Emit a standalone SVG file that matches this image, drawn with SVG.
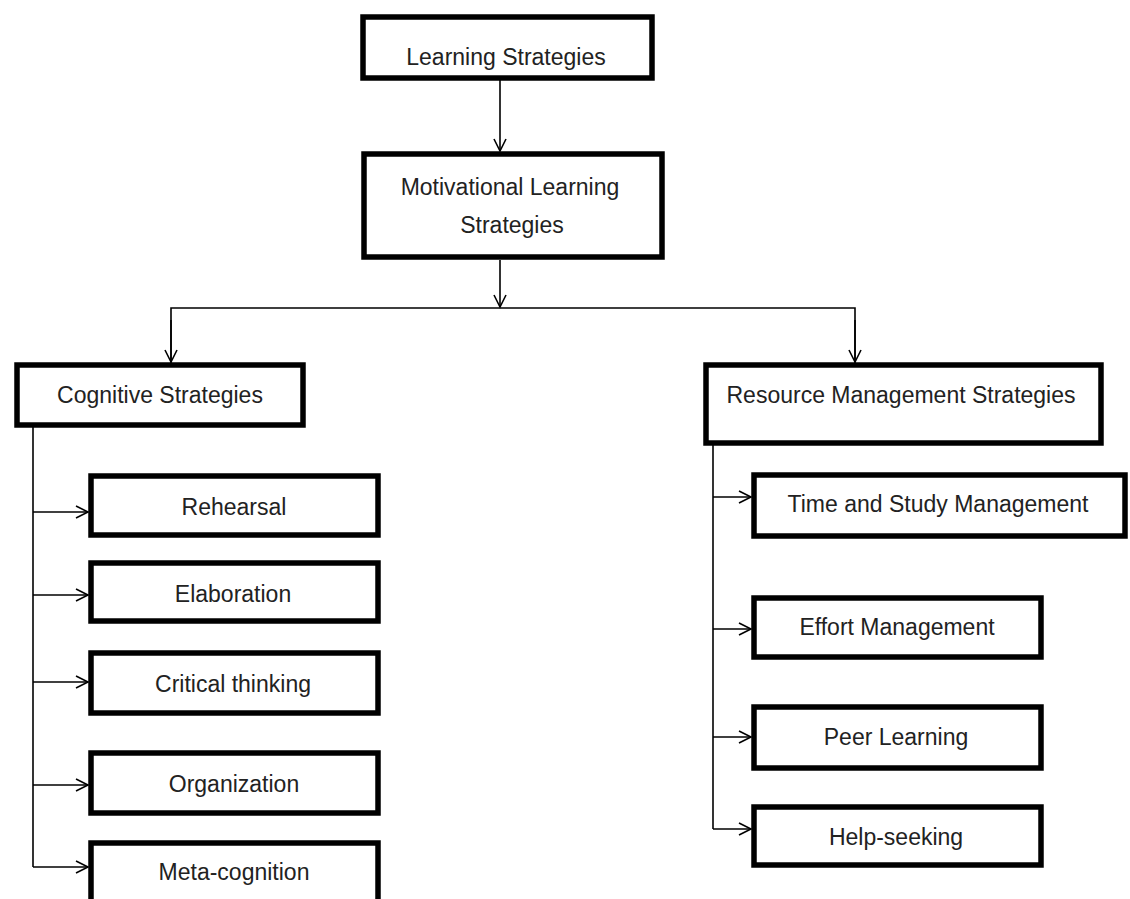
<svg xmlns="http://www.w3.org/2000/svg" width="1130" height="899" viewBox="0 0 1130 899">
  <style>
    .box { fill: #ffffff; stroke: #000000; stroke-width: 5.5; }
    .lbl { font-family: "Liberation Sans", Arial, sans-serif; font-size: 23px; fill: #222222; text-anchor: middle; }
    .conn { fill: none; stroke: #000000; stroke-width: 1.6; }
  </style>
  <defs>
    <marker id="arr" markerUnits="userSpaceOnUse" markerWidth="16" markerHeight="16" viewBox="0 0 16 16" refX="13" refY="7" orient="auto">
      <path d="M1,1 L13,7 L1,13" fill="none" stroke="#000000" stroke-width="1.6"/>
    </marker>
  </defs>
  <rect width="1130" height="899" fill="#ffffff"/>

  <g id="connectors">
    <line class="conn" x1="500" y1="80" x2="500" y2="151" marker-end="url(#arr)"/>
    <line class="conn" x1="500" y1="260" x2="500" y2="307" marker-end="url(#arr)"/>
    <polyline class="conn" points="171,363 171,308 855,308 855,363"/>
    <line class="conn" x1="171" y1="320" x2="171" y2="362" marker-end="url(#arr)"/>
    <line class="conn" x1="855" y1="320" x2="855" y2="362" marker-end="url(#arr)"/>
    <line class="conn" x1="33" y1="427" x2="33" y2="867"/>
    <line class="conn" x1="33" y1="512" x2="88" y2="512" marker-end="url(#arr)"/>
    <line class="conn" x1="33" y1="595" x2="88" y2="595" marker-end="url(#arr)"/>
    <line class="conn" x1="33" y1="682" x2="88" y2="682" marker-end="url(#arr)"/>
    <line class="conn" x1="33" y1="785" x2="88" y2="785" marker-end="url(#arr)"/>
    <line class="conn" x1="33" y1="867" x2="88" y2="867" marker-end="url(#arr)"/>
    <line class="conn" x1="713" y1="445" x2="713" y2="829"/>
    <line class="conn" x1="713" y1="497" x2="751" y2="497" marker-end="url(#arr)"/>
    <line class="conn" x1="713" y1="629" x2="751" y2="629" marker-end="url(#arr)"/>
    <line class="conn" x1="713" y1="737" x2="751" y2="737" marker-end="url(#arr)"/>
    <line class="conn" x1="713" y1="829" x2="751" y2="829" marker-end="url(#arr)"/>
  </g>

  <g id="learning-strategies">
    <rect class="box" x="363" y="17" width="289" height="61"/>
    <text class="lbl" x="506" y="65">Learning Strategies</text>
  </g>
  <g id="motivational">
    <rect class="box" x="364" y="154" width="298" height="103"/>
    <text class="lbl" x="510" y="195">Motivational Learning</text>
    <text class="lbl" x="512" y="233">Strategies</text>
  </g>
  <g id="cognitive">
    <rect class="box" x="17" y="365" width="286" height="60"/>
    <text class="lbl" x="160" y="403">Cognitive Strategies</text>
  </g>
  <g id="rehearsal">
    <rect class="box" x="91" y="476" width="287" height="59"/>
    <text class="lbl" x="234" y="515">Rehearsal</text>
  </g>
  <g id="elaboration">
    <rect class="box" x="91" y="563" width="287" height="58"/>
    <text class="lbl" x="233" y="602">Elaboration</text>
  </g>
  <g id="critical-thinking">
    <rect class="box" x="91" y="653" width="287" height="60"/>
    <text class="lbl" x="233" y="692">Critical thinking</text>
  </g>
  <g id="organization">
    <rect class="box" x="91" y="753" width="287" height="60"/>
    <text class="lbl" x="234" y="792">Organization</text>
  </g>
  <g id="meta-cognition">
    <rect class="box" x="91" y="843" width="287" height="70"/>
    <text class="lbl" x="234" y="880">Meta-cognition</text>
  </g>
  <g id="resource-management">
    <rect class="box" x="706" y="365" width="395" height="78"/>
    <text class="lbl" x="901" y="403">Resource Management Strategies</text>
  </g>
  <g id="time-study">
    <rect class="box" x="754" y="475" width="371" height="61"/>
    <text class="lbl" x="938" y="512">Time and Study Management</text>
  </g>
  <g id="effort">
    <rect class="box" x="754" y="598" width="287" height="59"/>
    <text class="lbl" x="897" y="635">Effort Management</text>
  </g>
  <g id="peer-learning">
    <rect class="box" x="754" y="707" width="287" height="61"/>
    <text class="lbl" x="896" y="745">Peer Learning</text>
  </g>
  <g id="help-seeking">
    <rect class="box" x="754" y="807" width="287" height="58"/>
    <text class="lbl" x="896" y="845">Help-seeking</text>
  </g>
</svg>
